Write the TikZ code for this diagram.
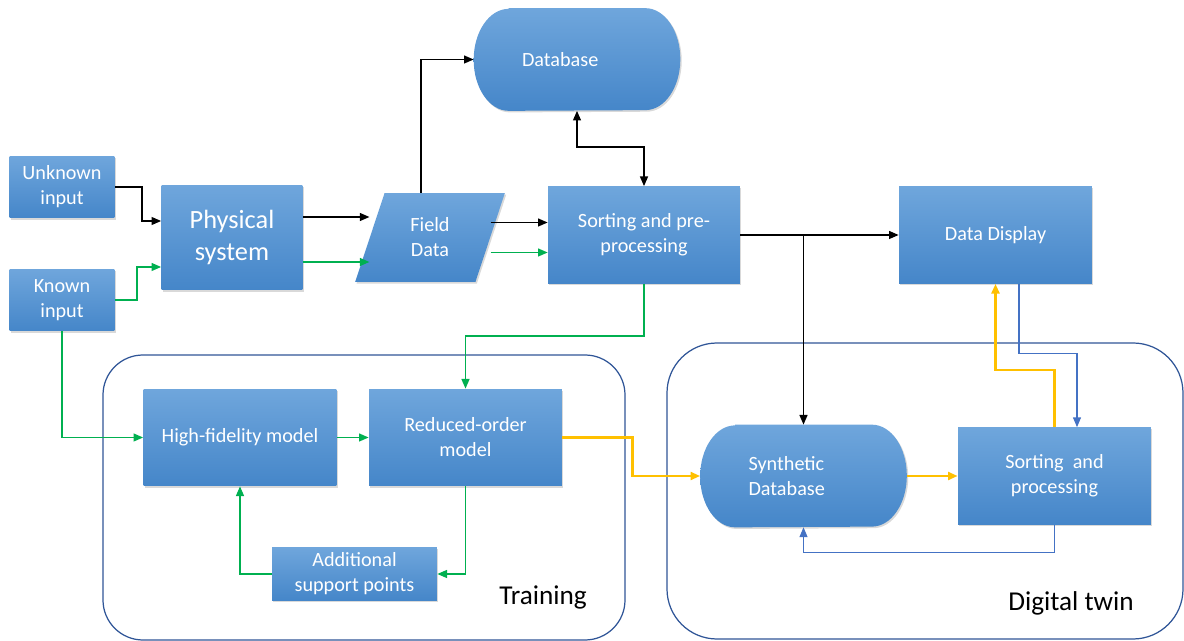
\documentclass[tikz,border=0pt]{standalone}
\usepackage{fontspec}
\setmainfont{Carlito}
\usepackage{tikz}
\usetikzlibrary{arrows.meta,shapes.geometric,shadows,backgrounds}
\definecolor{boxtop}{HTML}{6FA6DC}
\definecolor{boxbot}{HTML}{4586C9}
\definecolor{lgreen}{HTML}{00B050}
\definecolor{lorange}{HTML}{FFC000}
\definecolor{lblue}{HTML}{4472C4}
\definecolor{cframe}{HTML}{2F5597}
\tikzset{
shade box/.style = {top color=boxtop, bottom color=boxbot, text=white,
                    drop shadow={shadow xshift=0.8pt, shadow yshift=-0.9pt, opacity=0.3}},
box/.style = {rectangle, shade box, minimum width=#1, minimum height=1.94cm,
              align=center, inner sep=2pt, font=\fontsize{11.5}{14.2}\selectfont},
box/.default = 3.86cm % width of the usual block
}
\tikzset{
dbstore/.style = {rectangle, minimum height=2.04cm, text=white, inner xsep=0.96cm,
                  text width=2.2cm, align=left, font=\fontsize{11.5}{14.2}\selectfont},
dataio/.style = {trapezium, trapezium left angle=72, trapezium right angle=108,
                 trapezium stretches=true, shade box, minimum width=3cm, minimum height=1.78cm,
                 align=center, inner sep=1pt, font=\fontsize{11.5}{14.2}\selectfont},
cont/.style = {draw=cframe, line width=0.7pt, rounded corners=#1},
lbl/.style = {font=\fontsize{15.5}{18}\selectfont, text=black},
blk/.style = {draw=black, line width=0.9pt, -{Triangle[length=5.5pt,width=4.5pt]}},
grn/.style = {draw=lgreen, line width=0.9pt, -{Triangle[length=5.5pt,width=4.5pt]}},
org/.style = {draw=lorange, line width=1.5pt, -{Triangle[length=5.5pt,width=4.5pt]}},
blu/.style = {draw=lblue, line width=0.6pt, -{Triangle[length=5.5pt,width=4.5pt]}}
}
% terminator outline behind a dbstore node
\newcommand{\stadium}[1]{%
  \begin{scope}[on background layer]
  \path[shade box] ([xshift=0.7cm]#1.north west) -- ([xshift=-0.7cm]#1.north east)
    arc[start angle=90, end angle=-90, x radius=0.7cm, y radius=1.02cm]
    -- ([xshift=0.7cm]#1.south west)
    arc[start angle=270, end angle=90, x radius=0.7cm, y radius=1.02cm] -- cycle;
  \end{scope}}

\begin{document}
\begin{tikzpicture}[x=0.02cm, y=-0.02cm]
\useasboundingbox (0,0) rectangle (1184,641);

% groups
\draw[cont=0.8cm] (103,355) rectangle (625,640);
\draw[cont=1cm] (667,343) rectangle (1183,639);
\node[lbl] (train) at (543,597) {Training};
\node[lbl] (twin) at (1071,603) {Digital twin};

\node[box=2.1cm, minimum height=1.24cm] (unk) at (62,187) {Unknown\\input};
\node[box=2.1cm, minimum height=1.24cm] (known) at (62,300) {Known\\input};
\node[box=2.82cm, minimum height=2.1cm, font=\fontsize{15}{18}\selectfont] (phys) at (232,237.5) {Physical\\system};
\node[dataio] (fd) at (430,237.5) {Field\\Data};
\node[dbstore] (db) at (577,59.5) {Database};
\stadium{db}
\node[box=3.84cm] (sort) at (644,235) {Sorting and pre-\\processing};
\node[box] (disp) at (995.5,235) {Data Display};

\node[box] (hifi) at (240,437.5) {High-fidelity model};
\node[box] (rom) at (465.5,437.5) {Reduced-order\\model};
\node[box=3.3cm, minimum height=1.06cm] (asp) at (354.5,574) {Additional\\support points};
\node[dbstore] (syn) at (803.5,476) {Synthetic\\Database};
\stadium{syn}
\node[box] (spr) at (1054.5,476) {Sorting\ \ and\\processing};

\draw[blk] (unk.east) -- ++(27,0) |- ([yshift=0.33cm]phys.west);
\draw[grn] (known.east) -- ++(22,0) |- ([yshift=-0.59cm]phys.west);
\draw[grn] (known.south) |- (hifi.west);
\draw[blk] ([yshift=0.41cm]phys.east) -- ([yshift=0.41cm]phys.east -| fd.west);
\draw[grn] ([yshift=-0.49cm]phys.east) -- ([yshift=-0.49cm]phys.east -| fd.west);
\draw[blk] ([xshift=-0.18cm]fd.north) |- (db.west);
\draw[blk] ([yshift=0.25cm]sort.west -| fd.east) -- ([yshift=0.25cm]sort.west);
\draw[grn] ([yshift=-0.35cm]sort.west -| fd.east) -- ([yshift=-0.35cm]sort.west);
\draw[blk, {Triangle[length=5.5pt,width=4.5pt]}-{Triangle[length=5.5pt,width=4.5pt]}] (db.south) -- ++(0,36) -| (sort.north);
\draw[grn] (sort.south) -- ++(0,52) -| (rom.north);
\draw[blk] (sort.east) -- (disp.west);
\draw[blk] (sort.east -| syn.north) -- (syn.north);
\draw[grn] (hifi.east) -- (rom.west);
\draw[grn] (rom.south) |- (asp.east);
\draw[grn] (asp.west) -| (hifi.south);
\draw[org] (rom.east) -- ++(70,0) |- (syn.west);
\draw[org] (syn.east) -- (spr.west);
\draw[org] (spr.north) -- ++(0,-57) -| (disp.south);
\draw[blu] ([xshift=0.47cm]disp.south) -- ++(0,70) -| ([xshift=0.45cm]spr.north);
\draw[blu] (spr.south) -- ++(0,28) -| (syn.south);
\end{tikzpicture}
\end{document}
